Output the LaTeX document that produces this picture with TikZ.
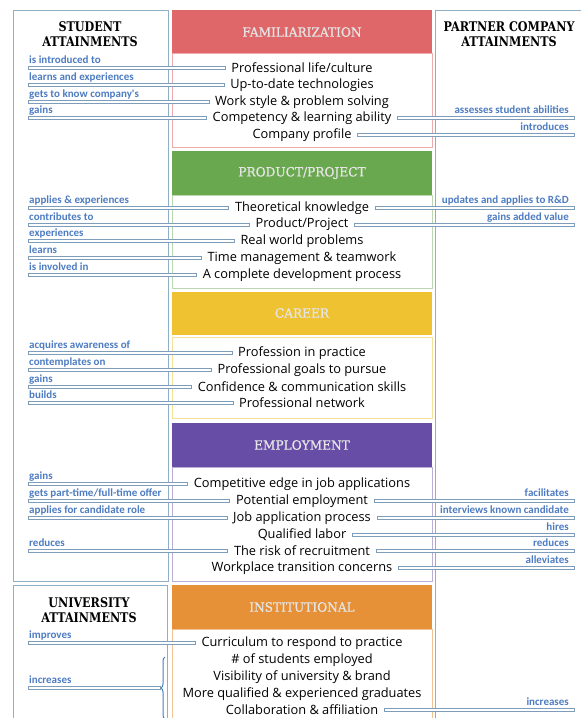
\documentclass[tikz,border=0pt]{standalone}
\usepackage{fontspec}
\setmainfont{Open Sans}
\newfontfamily\slab[FakeStretch=0.84]{DejaVu Serif}
\newfontfamily\bandfont[FakeStretch=0.95,FakeBold=0.8]{DejaVu Serif}
\newfontfamily\lblfont{Carlito}
\usetikzlibrary{positioning,decorations.pathreplacing}

\definecolor{famred}{HTML}{E06769}
\definecolor{prodgreen}{HTML}{6AA84F}
\definecolor{caryellow}{HTML}{EFC232}
\definecolor{emppurple}{HTML}{684DA6}
\definecolor{instorange}{HTML}{E69138}
\definecolor{frameblue}{HTML}{8FAFC6}
\definecolor{barblue}{HTML}{7D9DBB}
\definecolor{lblblue}{HTML}{4D7CC2}

% student side tie: name, item node, label
\newcommand\lefttie[3]{%
  \coordinate (#1) at (28,0 |- #2);
  \draw[bar] ([yshift=1.5pt]#1) rectangle ([xshift=-6pt,yshift=-1.5pt]#2.west);
  \node[lbl, anchor=base west] (#1-lbl) at ([xshift=1pt,yshift=4.5pt]#1) {#3};}
% company side tie: name, item node, label
\newcommand\righttie[3]{%
  \coordinate (#1) at (574,0 |- #2);
  \draw[bar] ([xshift=6pt,yshift=1.5pt]#2.east) rectangle ([yshift=-1.5pt]#1);
  \node[lbl, anchor=base east] (#1-lbl) at ([xshift=-5pt,yshift=4.5pt]#1) {#3};}

\begin{document}
\begin{tikzpicture}[x=1pt, y=-1pt,
    frame/.style={draw=frameblue, line width=0.8pt},
    head/.style={font=\slab\bfseries\fontsize{13.3}{15.5}\selectfont, align=center},
    bandtitle/.style={font=\bandfont\fontsize{12.8}{14}\selectfont, text=white!90!black},
    item/.style={font=\fontsize{12.8}{15}\selectfont, inner xsep=0pt, inner ysep=1pt},
    lbl/.style={font=\lblfont\bfseries\fontsize{11}{12}\selectfont, text=lblblue, inner sep=0pt},
    bar/.style={draw=barblue, fill=white, line width=0.7pt},
    brace/.style={decorate, decoration={brace, amplitude=4pt}, draw=lblblue, line width=1pt}]
  \useasboundingbox (0,0) rectangle (581,718);
  \clip (0,0) rectangle (581,718);
  \fill[white] (0,0) rectangle (581,718);

  % attainment columns
  \draw[frame] (13,10) rectangle (168,581);
  \draw[frame] (435,10) rectangle (600,740);
  \draw[frame] (13,585) rectangle (167,740);
  \node[head] (student) at (90,34) {STUDENT\\ATTAINMENTS};
  \node[head] (partner) at (509,34) {PARTNER COMPANY\\ATTAINMENTS};
  \node[head] (university) at (89,610) {UNIVERSITY\\ATTAINMENTS};

  % stage bands
  \fill[famred] (172,10) rectangle (432,53);
  \draw[famred!55, line width=0.8pt] (172,53) rectangle (432,147);
  \node[bandtitle] (fam) at (302,32) {FAMILIARIZATION};

  \fill[prodgreen] (172,151) rectangle (432,195);
  \draw[prodgreen!45, line width=0.8pt] (172,195) rectangle (432,288);
  \node[bandtitle] (prod) at (302,173) {PRODUCT/PROJECT};

  \fill[caryellow] (172,292) rectangle (432,335);
  \draw[caryellow!50, line width=0.8pt] (172,337) rectangle (432,418);
  \node[bandtitle] (car) at (302,313) {CAREER};

  \fill[emppurple] (172,423) rectangle (432,467);
  \draw[emppurple!45, line width=0.8pt] (172,467) rectangle (432,581);
  \node[bandtitle] (emp) at (302,445) {EMPLOYMENT};

  \fill[instorange] (172,585) rectangle (432,629);
  \draw[instorange!55, line width=0.8pt] (172,629) rectangle (432,740);
  \node[bandtitle] (inst) at (302,607) {INSTITUTIONAL};

  % familiarization items
  \node[item] (f1) at (302,68) {Professional life/culture};
  \node[item] (f2) at (302,85) {Up-to-date technologies};
  \node[item] (f3) at (302,102) {Work style \& problem solving};
  \node[item] (f4) at (302,118) {Competency \& learning ability};
  \node[item] (f5) at (302,135) {Company profile};

  % product/project items
  \node[item] (p1) at (302,208) {Theoretical knowledge};
  \node[item] (p2) at (302,224.5) {Product/Project};
  \node[item] (p3) at (302,241) {Real world problems};
  \node[item] (p4) at (302,258) {Time management \& teamwork};
  \node[item] (p5) at (302,275) {A complete development process};

  % career items
  \node[item] (c1) at (302,353) {Profession in practice};
  \node[item] (c2) at (302,370) {Professional goals to pursue};
  \node[item] (c3) at (302,387) {Confidence \& communication skills};
  \node[item] (c4) at (302,403) {Professional network};

  % employment items
  \node[item] (e1) at (302,484) {Competitive edge in job applications};
  \node[item] (e2) at (302,501) {Potential employment};
  \node[item] (e3) at (302,518) {Job application process};
  \node[item] (e4) at (302,535) {Qualified labor};
  \node[item] (e5) at (302,551) {The risk of recruitment};
  \node[item] (e6) at (302,568) {Workplace transition concerns};

  % institutional items
  \node[item] (i1) at (302,643) {Curriculum to respond to practice};
  \node[item] (i2) at (302,660) {\# of students employed};
  \node[item] (i3) at (302,677) {Visibility of university \& brand};
  \node[item] (i4) at (302,694) {More qualified \& experienced graduates};
  \node[item] (i5) at (302,710) {Collaboration \& affiliation};

  % student ties
  \lefttie{s-f1}{f1}{is introduced to}
  \lefttie{s-f2}{f2}{learns and experiences}
  \lefttie{s-f3}{f3}{gets to know company's}
  \lefttie{s-f4}{f4}{gains}
  \lefttie{s-p1}{p1}{applies \& experiences}
  \lefttie{s-p2}{p2}{contributes to}
  \lefttie{s-p3}{p3}{experiences}
  \lefttie{s-p4}{p4}{learns}
  \lefttie{s-p5}{p5}{is involved in}
  \lefttie{s-c1}{c1}{acquires awareness of}
  \lefttie{s-c2}{c2}{contemplates on}
  \lefttie{s-c3}{c3}{gains}
  \lefttie{s-c4}{c4}{builds}
  \lefttie{s-e1}{e1}{gains}
  \lefttie{s-e2}{e2}{gets part-time/full-time offer}
  \lefttie{s-e3}{e3}{applies for candidate role}
  \lefttie{s-e5}{e5}{reduces}

  % university ties
  \lefttie{u-i1}{i1}{improves}
  \coordinate (u-inc) at (28,688);
  \coordinate (brtip) at (160,688);
  \draw[bar] ([yshift=1.5pt]u-inc) rectangle ([yshift=-1.5pt]brtip);
  \node[lbl, anchor=base west] (u-inc-lbl) at ([xshift=1pt,yshift=4.5pt]u-inc) {increases};
  \draw[brace] (165,719) -- (165,657);

  % company ties
  \righttie{k-f4}{f4}{assesses student abilities}
  \righttie{k-f5}{f5}{introduces}
  \righttie{k-p1}{p1}{updates and applies to R\&D}
  \righttie{k-p2}{p2}{gains added value}
  \righttie{k-e2}{e2}{facilitates}
  \righttie{k-e3}{e3}{interviews known candidate}
  \righttie{k-e4}{e4}{hires}
  \righttie{k-e5}{e5}{reduces}
  \righttie{k-e6}{e6}{alleviates}
  \righttie{k-i5}{i5}{increases}
\end{tikzpicture}
\end{document}
